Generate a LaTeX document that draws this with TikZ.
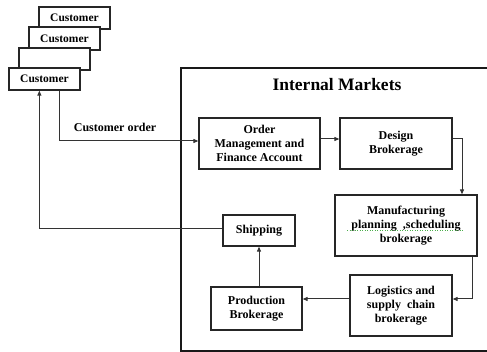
\documentclass[tikz,border=0pt]{standalone}
\usepackage{fontspec}
\setmainfont{Liberation Serif}
\usetikzlibrary{arrows.meta,calc}
\tikzset{
  box/.style={draw=black!85, line width=1.3pt, fill=white, align=center,
    font=\bfseries\fontsize{12}{14}\selectfont, inner sep=0pt},
  custbox/.style={box, minimum width=71pt, minimum height=22pt,
    font=\bfseries\fontsize{11.5}{13}\selectfont},
  conn/.style={draw=black!80, line width=1pt,
    -{Triangle[length=5pt,width=4pt]}},
  plain/.style={draw=black!80, line width=1pt},
}
\begin{document}
\begin{tikzpicture}[x=1pt, y=-1pt]
  \useasboundingbox (0,0) rectangle (487,352);

  % stack of customers, front one last
  \node[custbox] (c1) at (74.5,18) {Customer};
  \node[custbox, minimum height=23pt] (c2) at (64.5,38.5) {Customer};
  \node[custbox] (c3) at (54.5,59) {};
  \node[custbox] (c4) at (44.5,79) {Customer};

  % internal markets frame (open to the right)
  \coordinate (mtl) at (181,68);
  \coordinate (mbl) at (181,351);
  \draw[line width=2pt, black!90] (490,68) -- (mtl) -- (mbl) -- (490,351);
  \node[font=\bfseries\fontsize{17.5}{20}\selectfont] (title) at (337,85) {Internal Markets};

  % brokerages
  \node[box, minimum width=121pt, minimum height=51pt] (order) at (259.5,143.5)
    {Order\\Management and\\Finance Account};
  \node[box, minimum width=112pt, minimum height=51pt] (design) at (396,143.5)
    {Design\\Brokerage};
  \node[box, minimum width=142pt, minimum height=61pt] (manuf) at (406,225.5)
    {Manufacturing\\planning\ \ ,scheduling\\brokerage};
  \node[box, minimum width=102pt, minimum height=61pt] (logist) at (401,305.5)
    {Logistics and\\supply\ \ chain\\brokerage};
  \node[box, minimum width=91pt, minimum height=43pt] (prod) at (256.5,308.5)
    {Production\\Brokerage};
  \node[box, minimum width=72pt, minimum height=31pt] (ship) at (259,230.5)
    {Shipping};

  % spell-check squiggle under the second line
  \draw[green!55!black, line width=0.5pt, dotted, opacity=0.7]
    ($(manuf.center)+(-59,5)$) -- ($(manuf.center)+(57,5)$);

  % customer order into the markets
  \coordinate (orderout) at ($(c4.south west)+(51,0)$);
  \coordinate (orderin) at ($(order.west)+(0,-2.5)$);
  \draw[conn] (orderout) |- (orderin);
  \node[font=\bfseries\fontsize{12}{14}\selectfont, anchor=base] (colabel) at (115,132) {Customer order};

  % flow through the brokerages
  \draw[conn] ($(order.east)+(0,-4.5)$) -- ($(design.west)+(0,-4.5)$);
  \coordinate (dsgout) at ($(design.east)+(0,-4.5)$);
  \coordinate (mfgin) at ($(manuf.north)+(56,0)$);
  \draw[conn] (dsgout) -| (mfgin);
  \coordinate (mfgout) at ($(manuf.south)+(66,0)$);
  \coordinate (login) at ($(logist.east)+(0,-6.5)$);
  \draw[conn] (mfgout) |- (login);
  \draw[conn] ($(logist.west)+(0,-6.5)$) -- ($(prod.east)+(0,-9.5)$);
  \draw[conn] ($(prod.north)+(2.5,0)$) -- ($(ship.south)+(0,0)$);

  % delivery back to the customer
  \coordinate (shipin) at ($(ship.west)+(0,-1.5)$);
  \coordinate (custin) at ($(c4.south west)+(31,0)$);
  \draw[conn] (shipin) -| (custin);
\end{tikzpicture}
\end{document}
